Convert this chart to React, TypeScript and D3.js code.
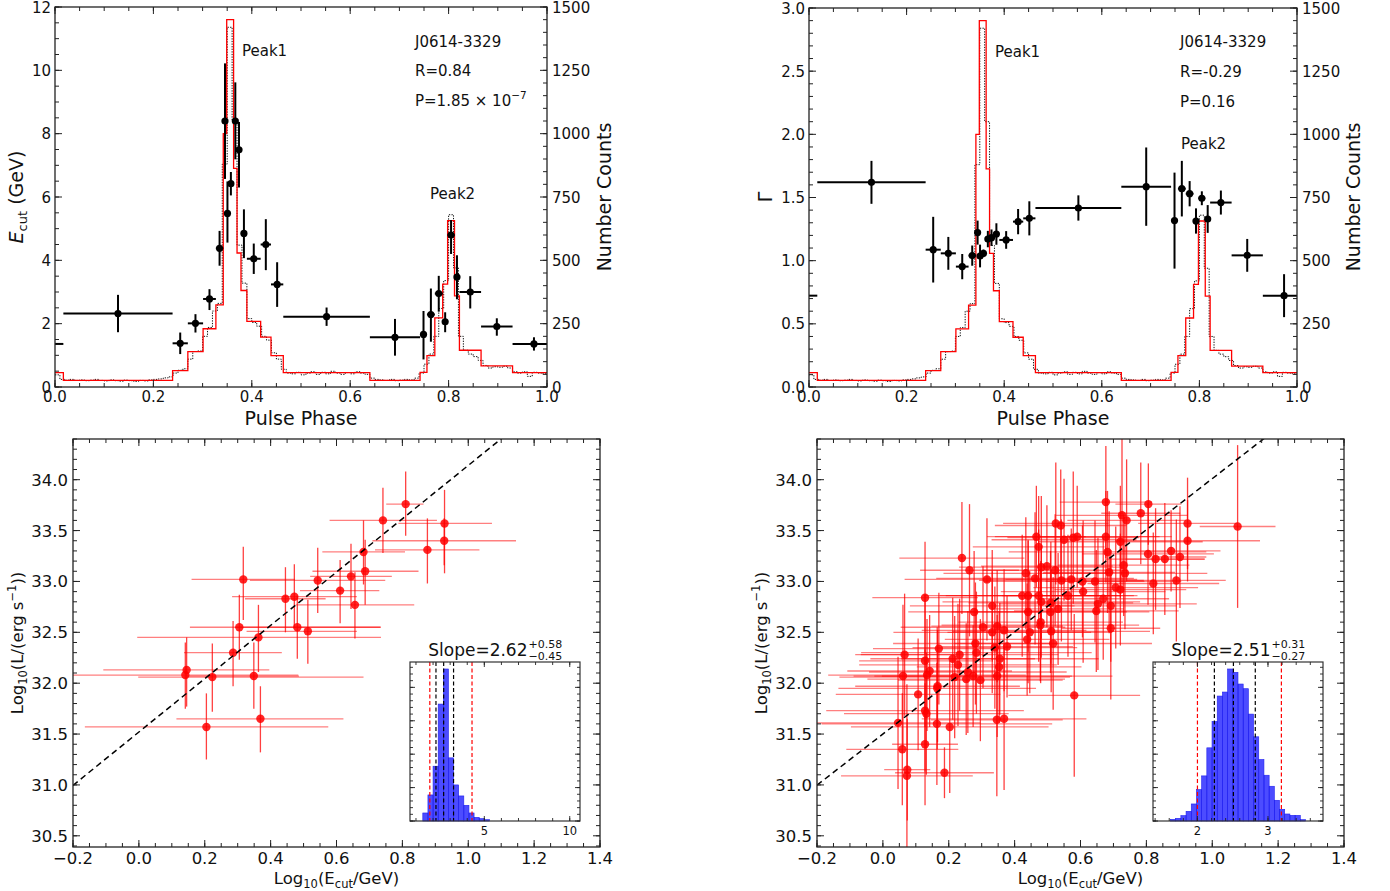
import React from "react";
import * as d3 from "d3";

const FONT = "'DejaVu Sans', 'Liberation Sans', sans-serif";

// ================= Top panels (phase resolved) =================
const phaseEdges = [0.017, 0.239, 0.27, 0.301, 0.327, 0.342, 0.349, 0.352, 0.363, 0.37, 0.378, 0.39, 0.418, 0.439, 0.464, 0.64, 0.742, 0.756, 0.772, 0.788, 0.798, 0.812, 0.822, 0.866, 0.93, 1.017];
const ecutValues = [2.32, 1.38, 2.01, 2.78, 4.38, 8.4, 5.48, 6.42, 8.4, 7.49, 4.85, 4.05, 4.5, 3.24, 2.22, 1.57, 1.66, 2.29, 2.95, 2.06, 4.8, 3.47, 3.0, 1.91, 1.36];
const ecutErrLow = [0.59, 0.34, 0.29, 0.35, 0.55, 1.83, 0.92, 0.37, 1.21, 1.19, 0.78, 0.48, 0.81, 0.71, 0.29, 0.58, 0.79, 0.86, 0.57, 0.33, 0.6, 0.7, 0.52, 0.29, 0.21];
const ecutErrHigh = [0.59, 0.34, 0.29, 0.31, 0.55, 1.82, 1.01, 0.37, 1.22, 0.88, 0.76, 0.48, 0.8, 0.7, 0.29, 0.58, 0.74, 0.82, 0.56, 0.3, 0.47, 0.69, 0.5, 0.26, 0.21];
const gammaValues = [1.62, 1.087, 1.058, 0.953, 1.04, 1.222, 1.037, 1.058, 1.171, 1.182, 1.211, 1.164, 1.309, 1.335, 1.417, 1.586, 1.317, 1.57, 1.53, 1.314, 1.494, 1.33, 1.46, 1.042, 0.723];
const gammaErr = [0.17, 0.26, 0.13, 0.1, 0.08, 0.095, 0.09, 0.03, 0.065, 0.065, 0.085, 0.07, 0.1, 0.135, 0.1, 0.31, 0.38, 0.22, 0.1, 0.1, 0.055, 0.11, 0.095, 0.13, 0.17];
// light curve (counts) in the coarse phase bins above
const lcCoarse = [26, 65, 140, 230, 324, 1000, 1450, 1450, 863, 529, 381, 259, 197, 124, 57, 26, 58, 124, 273, 406, 657, 360, 145, 83, 57];
// light curve (counts) in 100 fine phase bins
const lcFine = [
  48, 30, 27, 30, 26, 28, 25, 27, 30, 26,
  24, 28, 25, 23, 27, 25, 22, 26, 24, 28,
  30, 32, 36, 40, 55, 66, 72, 110, 140, 142,
  200, 235, 300, 330, 880, 1420, 1050, 560, 410, 270,
  255, 240, 200, 185, 135, 110, 70, 55, 52, 58,
  48, 55, 60, 50, 58, 52, 62, 55, 50, 57,
  52, 60, 55, 50, 35, 30, 28, 26, 30, 25,
  27, 30, 28, 35, 55, 90, 130, 200, 310, 420,
  680, 470, 200, 145, 130, 120, 105, 85, 75, 80,
  78, 82, 75, 60, 55, 60, 42, 58, 55, 52,
];

// ================= Bottom-left scatter =================
const blX = [0.81, 0.741, 0.928, 0.927, 0.876, 0.682, 0.687, 0.644, 0.543, 0.317, 0.611, 0.445, 0.472, 0.656, 0.305, 0.481, 0.513, 0.363, 0.286, 0.145, 0.141, 0.223, 0.349, 0.205, 0.369];
const blY = [33.76, 33.6, 33.57, 33.4, 33.31, 33.29, 33.1, 33.05, 33.01, 33.02, 32.91, 32.83, 32.85, 32.77, 32.55, 32.55, 32.51, 32.45, 32.3, 32.13, 32.08, 32.06, 32.07, 31.57, 31.65];
const blXlo = [0.751, 0.579, 0.788, 0.709, 0.717, 0.557, 0.527, 0.52, 0.337, 0.16, 0.489, 0.322, 0.283, 0.476, 0.155, 0.292, 0.327, -0.005, 0.137, -0.108, -0.25, -0.002, 0.145, -0.164, 0.114];
const blXhi = [0.864, 0.905, 1.072, 1.145, 1.034, 0.808, 0.849, 0.768, 0.748, 0.474, 0.73, 0.567, 0.662, 0.836, 0.734, 0.734, 0.662, 0.735, 0.434, 0.396, 0.484, 0.682, 0.486, 0.575, 0.621];
const blYlo = [33.45, 33.28, 33.08, 33.16, 32.98, 32.97, 32.77, 32.73, 32.69, 32.62, 32.59, 32.5, 32.54, 32.44, 32.23, 32.24, 32.19, 32.11, 31.97, 31.77, 31.75, 31.72, 31.75, 31.25, 31.32];
const blYhi = [34.08, 33.92, 33.9, 33.62, 33.62, 33.6, 33.41, 33.37, 33.33, 33.34, 33.21, 33.14, 33.17, 33.09, 32.87, 32.86, 32.82, 32.77, 32.61, 32.45, 32.4, 32.39, 32.4, 31.9, 31.97];
const blFit = { slope: 2.62, intercept: 31.52 };

// ================= Bottom-right scatter =================
const brX = [
  0.677, 0.806, 0.783, 0.726, 0.74, 0.525, 0.54, 0.925, 1.077, 0.466,
  0.55, 0.578, 0.59, 0.677, 0.721, 0.925, 0.473, 0.682, 0.805, 0.875,
  0.828, 0.856, 0.902, 0.24, 0.263, 0.481, 0.498, 0.523, 0.731, 0.735,
  0.687, 0.434, 0.316, 0.462, 0.542, 0.572, 0.606, 0.644, 0.821, 0.891,
  0.707, 0.721, 0.608, 0.423, 0.441, 0.473, 0.562, 0.128, 0.669, 0.481,
  0.51, 0.692, 0.653, 0.332, 0.648, 0.441, 0.277, 0.509, 0.532, 0.479,
  0.478, 0.304, 0.692, 0.511, 0.332, 0.347, 0.368, 0.438, 0.517, 0.281,
  0.17, 0.377, 0.34, 0.066, 0.128, 0.212, 0.233, 0.284, 0.355, 0.228,
  0.142, 0.353, 0.258, 0.218, 0.061, 0.134, 0.347, 0.253, 0.296, 0.274,
  0.166, 0.165, 0.107, 0.581, 0.128, 0.132, 0.046, 0.164, 0.203, 0.346,
  0.368, 0.128, 0.059, 0.074, 0.073, 0.187, 0.446,
];
const brY = [
  33.78, 33.76, 33.67, 33.65, 33.6, 33.57, 33.55, 33.57, 33.54, 33.44,
  33.41, 33.43, 33.44, 33.44, 33.39, 33.4, 33.34, 33.29, 33.27, 33.3,
  33.22, 33.22, 33.24, 33.23, 33.11, 33.14, 33.15, 33.11, 33.16, 33.08,
  33.09, 33.08, 33.02, 33.03, 33.01, 33.02, 33.0, 33.0, 32.98, 33.01,
  32.94, 32.92, 32.9, 32.86, 32.86, 32.86, 32.86, 32.84, 32.83, 32.8,
  32.79, 32.76, 32.78, 32.76, 32.71, 32.7, 32.7, 32.7, 32.73, 32.6,
  32.57, 32.55, 32.54, 32.51, 32.5, 32.56, 32.52, 32.43, 32.39, 32.39,
  32.34, 32.36, 32.35, 32.28, 32.22, 32.24, 32.28, 32.3, 32.24, 32.18,
  32.12, 32.16, 32.11, 32.06, 32.07, 32.08, 32.07, 32.04, 32.03, 32.07,
  31.97, 31.95, 31.89, 31.88, 31.73, 31.7, 31.61, 31.6, 31.57, 31.64,
  31.65, 31.4, 31.35, 31.15, 31.09, 31.12, 32.5,
];
const brXerr = [
  0.14, 0.1, 0.12, 0.2, 0.18, 0.16, 0.2, 0.15, 0.115, 0.15,
  0.22, 0.2, 0.25, 0.2, 0.25, 0.22, 0.2, 0.3, 0.2, 0.15,
  0.15, 0.12, 0.08, 0.19, 0.15, 0.25, 0.2, 0.22, 0.2, 0.25,
  0.2, 0.25, 0.25, 0.3, 0.25, 0.2, 0.3, 0.15, 0.2, 0.15,
  0.25, 0.2, 0.25, 0.3, 0.25, 0.3, 0.2, 0.16, 0.2, 0.3,
  0.25, 0.2, 0.3, 0.25, 0.25, 0.3, 0.2, 0.3, 0.2, 0.25,
  0.3, 0.25, 0.15, 0.3, 0.3, 0.2, 0.25, 0.25, 0.3, 0.25,
  0.2, 0.2, 0.25, 0.15, 0.2, 0.25, 0.3, 0.35, 0.3, 0.3,
  0.25, 0.25, 0.3, 0.35, 0.15, 0.3, 0.35, 0.3, 0.25, 0.3,
  0.25, 0.3, 0.25, 0.2, 0.3, 0.25, 0.25, 0.35, 0.3, 0.2,
  0.25, 0.1, 0.17, 0.07, 0.2, 0.15, 0.25,
];
const brYerr = [
  0.55, 0.4, 0.5, 0.75, 0.6, 0.6, 0.55, 0.45, 0.8, 0.5,
  0.6, 0.65, 0.5, 0.45, 0.55, 0.4, 0.5, 0.6, 0.5, 0.4,
  0.5, 0.55, 0.5, 0.55, 0.65, 0.7, 0.6, 0.55, 0.5, 0.55,
  0.6, 0.55, 0.6, 0.65, 0.6, 0.5, 0.55, 0.6, 0.5, 0.6,
  0.6, 0.55, 0.7, 0.6, 0.55, 0.65, 0.6, 0.55, 0.6, 0.55,
  0.6, 0.55, 0.65, 0.55, 0.6, 0.7, 0.6, 0.6, 0.55, 0.6,
  0.55, 0.6, 0.7, 0.6, 0.6, 0.55, 0.6, 0.55, 0.65, 0.6,
  0.55, 0.5, 0.6, 0.6, 0.65, 0.6, 0.55, 0.6, 0.55, 0.6,
  0.55, 0.55, 0.6, 0.6, 0.7, 0.55, 0.6, 0.55, 0.6, 0.5,
  0.55, 0.6, 0.55, 0.8, 0.6, 0.6, 0.65, 0.6, 0.65, 0.75,
  0.7, 0.6, 0.55, 0.5, 0.9, 0.25, 0.6,
];
const brFit = { slope: 2.51, intercept: 31.5 };

// ================= Insets (slope posterior histograms) =================
const histLStart = 1.4;
const histLWidth = 0.3;
const histLCounts = [24, 78, 164, 350, 455, 189, 108, 75, 47, 24, 11, 7, 4];
const histLRed = [1.81, 4.28];
const histLBlack = [2.17, 2.62, 3.2];

const histRStart = 1.618;
const histRWidth = 0.0736;
const histRCounts = [5, 8, 16, 29, 51, 94, 135, 219, 298, 374, 386, 455, 445, 410, 396, 320, 252, 184, 137, 104, 62, 35, 21, 17, 17, 4];
const histRRed = [2.0, 3.19];
const histRBlack = [2.24, 2.51, 2.82];

type Box = { x0: number; x1: number; y0: number; y1: number };

const grid = (a: number, b: number, s: number) =>
  d3.range(Math.ceil(a / s - 1e-9), Math.floor(b / s + 1e-9) + 1).map((k) => +(k * s).toFixed(6));

function Ticks(props: any) {
  const { box, sx, sy, syR, xMaj, xMin, yMaj, yMin, yRMaj, yRMin, maj = 7, min = 4, sw = 1 } = props;
  const out: any[] = [];
  let k = 0;
  const L = (x1: number, y1: number, x2: number, y2: number) =>
    out.push(<line key={k++} x1={x1} y1={y1} x2={x2} y2={y2} />);
  const xs = (vals: number[], len: number) =>
    vals.forEach((v) => {
      const p = sx(v);
      L(p, box.y1, p, box.y1 - len);
      L(p, box.y0, p, box.y0 + len);
    });
  xs(xMin, min);
  xs(xMaj, maj);
  yMin.forEach((v: number) => L(box.x0, sy(v), box.x0 + min, sy(v)));
  yMaj.forEach((v: number) => L(box.x0, sy(v), box.x0 + maj, sy(v)));
  const r = syR || sy;
  (yRMin || yMin).forEach((v: number) => L(box.x1, r(v), box.x1 - min, r(v)));
  (yRMaj || yMaj).forEach((v: number) => L(box.x1, r(v), box.x1 - maj, r(v)));
  return (
    <g stroke="#222" strokeWidth={sw}>
      {out}
    </g>
  );
}

function TopPanel(props: any) {
  const { id, box, yMax, yMajStep, yMinStep, yFmt, values, errLo, errHi, yLabel, texts, peak1, peak2, countsLabelX } = props;
  const sx = d3.scaleLinear().domain([0, 1]).range([box.x0, box.x1]);
  const sy = d3.scaleLinear().domain([0, yMax]).range([box.y1, box.y0]);
  const sc = d3.scaleLinear().domain([0, 1500]).range([box.y1, box.y0]);
  const line = d3
    .line<[number, number]>()
    .x((d) => sx(d[0]))
    .y((d) => sc(d[1]));
  const finePts: [number, number][] = [];
  lcFine.forEach((v, i) => {
    finePts.push([i / lcFine.length, v], [(i + 1) / lcFine.length, v]);
  });
  const last = lcCoarse[lcCoarse.length - 1];
  const coarsePts: [number, number][] = [
    [0, last],
    [phaseEdges[0], last],
  ];
  lcCoarse.forEach((v, i) => {
    coarsePts.push([phaseEdges[i], v], [Math.min(phaseEdges[i + 1], 1), v]);
  });
  const fmtX = d3.format(".1f");
  const clip = `clip-${id}`;
  return (
    <g>
      <defs>
        <clipPath id={clip}>
          <rect x={box.x0} y={box.y0} width={box.x1 - box.x0} height={box.y1 - box.y0} />
        </clipPath>
      </defs>
      <g clipPath={`url(#${clip})`}>
        <path d={line(finePts) || ""} fill="none" stroke="#111" strokeWidth={1} strokeDasharray="1.3 1.3" />
        <path d={line(coarsePts) || ""} fill="none" stroke="#ff0000" strokeWidth={1.3} />
        <g stroke="#000" strokeWidth={2}>
          {values.map((v: number, i: number) => {
            const a = phaseEdges[i];
            const b = phaseEdges[i + 1];
            const c = (a + b) / 2;
            return (
              <g key={i}>
                <line x1={sx(a)} x2={sx(Math.min(b, 1))} y1={sy(v)} y2={sy(v)} />
                {b > 1 && <line x1={sx(0)} x2={sx(b - 1)} y1={sy(v)} y2={sy(v)} />}
                <line x1={sx(c)} x2={sx(c)} y1={sy(v - errLo[i])} y2={sy(v + errHi[i])} />
                <circle cx={sx(c)} cy={sy(v)} r={3.6} fill="#000" stroke="none" />
              </g>
            );
          })}
        </g>
      </g>
      <rect x={box.x0} y={box.y0} width={box.x1 - box.x0} height={box.y1 - box.y0} fill="none" stroke="#222" strokeWidth={1.3} />
      <Ticks
        box={box}
        sx={sx}
        sy={sy}
        syR={sc}
        xMaj={grid(0, 1, 0.2)}
        xMin={grid(0, 1, 0.05)}
        yMaj={grid(0, yMax, yMajStep)}
        yMin={grid(0, yMax, yMinStep)}
        yRMaj={grid(0, 1500, 250)}
        yRMin={grid(0, 1500, 50)}
      />
      <g fontSize={15} fill="#111">
        {grid(0, 1, 0.2).map((v) => (
          <text key={"x" + v} x={sx(v)} y={box.y1 + 15} textAnchor="middle">
            {fmtX(v)}
          </text>
        ))}
        {grid(0, yMax, yMajStep).map((v) => (
          <text key={"y" + v} x={box.x0 - 4} y={sy(v) + 5.5} textAnchor="end">
            {yFmt(v)}
          </text>
        ))}
        {grid(0, 1500, 250).map((v) => (
          <text key={"c" + v} x={box.x1 + 5} y={sc(v) + 5.5} textAnchor="start">
            {v}
          </text>
        ))}
      </g>
      <text x={(box.x0 + box.x1) / 2} y={425} fontSize={19} textAnchor="middle" fill="#111">
        Pulse Phase
      </text>
      <text transform={`translate(${countsLabelX},197) rotate(-90)`} fontSize={19} textAnchor="middle" fill="#111">
        Number Counts
      </text>
      {yLabel}
      <g fontSize={15} fill="#111">
        {texts.map((t: any, i: number) => (
          <text key={i} x={t.x} y={t.y}>
            {t.content}
          </text>
        ))}
        <text x={peak1.x} y={peak1.y}>Peak1</text>
        <text x={peak2.x} y={peak2.y}>Peak2</text>
      </g>
    </g>
  );
}

function Inset(props: any) {
  const { box, dom, start, width, counts, reds, blacks, xMaj, xMin, slope, plus, minus } = props;
  const sx = d3.scaleLinear().domain(dom).range([box.x0, box.x1]);
  const ymax = (d3.max(counts) as number) * 1.046;
  const sy = d3.scaleLinear().domain([0, ymax]).range([box.y1, box.y0]);
  const split = (box.x0 + box.x1) / 2 + 32.5;
  return (
    <g>
      <rect x={box.x0} y={box.y0} width={box.x1 - box.x0} height={box.y1 - box.y0} fill="#fff" />
      {counts.map((c: number, i: number) => {
        const a = start + i * width;
        return (
          <rect
            key={i}
            x={sx(a)}
            y={sy(c)}
            width={sx(a + width) - sx(a)}
            height={sy(0) - sy(c)}
            fill="#0000ff"
            fillOpacity={0.7}
            stroke="#2020ee"
            strokeWidth={0.6}
          />
        );
      })}
      {reds.map((v: number, i: number) => (
        <line key={"r" + i} x1={sx(v)} x2={sx(v)} y1={box.y0} y2={box.y1} stroke="#ff0000" strokeWidth={1.2} strokeDasharray="4 2.5" />
      ))}
      {blacks.map((v: number, i: number) => (
        <line key={"b" + i} x1={sx(v)} x2={sx(v)} y1={box.y0} y2={box.y1} stroke="#000" strokeWidth={1.2} strokeDasharray="4 2.5" />
      ))}
      <rect x={box.x0} y={box.y0} width={box.x1 - box.x0} height={box.y1 - box.y0} fill="none" stroke="#333" strokeWidth={1.2} />
      <Ticks box={box} sx={sx} sy={sy} xMaj={xMaj} xMin={xMin} yMaj={grid(0, ymax, 100)} yMin={grid(0, ymax, 20)} maj={5} min={3} sw={0.9} />
      <g fontSize={11.5} fill="#111">
        {xMaj.map((v: number) => (
          <text key={v} x={sx(v)} y={box.y1 + 14} textAnchor="middle">
            {v}
          </text>
        ))}
      </g>
      <text x={split} y={656} fontSize={17} textAnchor="end" fill="#111">
        Slope={slope}
      </text>
      <text x={split + 1} y={648} fontSize={11} fill="#111">
        {plus}
      </text>
      <text x={split + 1} y={660} fontSize={11} fill="#111">
        {minus}
      </text>
    </g>
  );
}

function BottomPanel(props: any) {
  const { id, box, pts, fit, inset } = props;
  const sx = d3.scaleLinear().domain([-0.2, 1.4]).range([box.x0, box.x1]);
  const sy = d3.scaleLinear().domain([30.39, 34.4]).range([box.y1, box.y0]);
  const clip = `clip-${id}`;
  const fmt = d3.format(".1f");
  const fitLine = d3
    .line<number>()
    .x((d) => sx(d))
    .y((d) => sy(fit.slope * d + fit.intercept));
  return (
    <g>
      <defs>
        <clipPath id={clip}>
          <rect x={box.x0} y={box.y0} width={box.x1 - box.x0} height={box.y1 - box.y0} />
        </clipPath>
      </defs>
      <g clipPath={`url(#${clip})`}>
        <g stroke="#ff0000" strokeWidth={1.3}>
          {pts.map((p: any, i: number) => (
            <g key={i}>
              <line x1={sx(p.xlo)} x2={sx(p.xhi)} y1={sy(p.y)} y2={sy(p.y)} strokeOpacity={0.5} />
              <line x1={sx(p.x)} x2={sx(p.x)} y1={sy(p.ylo)} y2={sy(p.yhi)} strokeOpacity={0.75} />
            </g>
          ))}
        </g>
        <g fill="#ff0000" fillOpacity={0.85}>
          {pts.map((p: any, i: number) => (
            <circle key={i} cx={sx(p.x)} cy={sy(p.y)} r={4.2} />
          ))}
        </g>
        <path d={fitLine([-0.2, 1.4]) || ""} fill="none" stroke="#000" strokeWidth={1.5} strokeDasharray="6 4" />
      </g>
      <rect x={box.x0} y={box.y0} width={box.x1 - box.x0} height={box.y1 - box.y0} fill="none" stroke="#222" strokeWidth={1.3} />
      <Ticks
        box={box}
        sx={sx}
        sy={sy}
        xMaj={grid(-0.2, 1.4, 0.2)}
        xMin={grid(-0.2, 1.4, 0.05)}
        yMaj={grid(30.39, 34.4, 0.5)}
        yMin={grid(30.39, 34.4, 0.1)}
      />
      <g fontSize={16.5} fill="#111">
        {grid(-0.2, 1.4, 0.2).map((v) => (
          <text key={"x" + v} x={sx(v)} y={box.y1 + 17} textAnchor="middle">
            {fmt(v)}
          </text>
        ))}
        {grid(30.39, 34.4, 0.5).map((v) => (
          <text key={"y" + v} x={box.x0 - 5} y={sy(v) + 6} textAnchor="end">
            {fmt(v)}
          </text>
        ))}
      </g>
      <text x={(box.x0 + box.x1) / 2} y={884} fontSize={16.5} textAnchor="middle" fill="#111">
        Log<tspan dy={4} fontSize={11.5}>10</tspan>
        <tspan dy={-4}>(E</tspan>
        <tspan dy={4} fontSize={11.5}>cut</tspan>
        <tspan dy={-4}>/GeV)</tspan>
      </text>
      <text transform={`translate(${box.x0 - 50},643) rotate(-90)`} fontSize={16.5} textAnchor="middle" fill="#111">
        Log<tspan dy={4} fontSize={11.5}>10</tspan>
        <tspan dy={-4}>(L/(erg s</tspan>
        <tspan dy={-7} fontSize={11.5}>−1</tspan>
        <tspan dy={7}>))</tspan>
      </text>
      <Inset {...inset} />
    </g>
  );
}

export default function App() {
  const boxTL: Box = { x0: 55, x1: 547, y0: 7, y1: 387 };
  const boxTR: Box = { x0: 809, x1: 1297, y0: 8, y1: 387 };
  const boxBL: Box = { x0: 73, x1: 600, y0: 439, y1: 847 };
  const boxBR: Box = { x0: 817, x1: 1344, y0: 439, y1: 847 };

  const blPts = blX.map((x, i) => ({ x, y: blY[i], xlo: blXlo[i], xhi: blXhi[i], ylo: blYlo[i], yhi: blYhi[i] }));
  const brPts = brX.map((x, i) => ({
    x,
    y: brY[i],
    xlo: x - brXerr[i],
    xhi: x + brXerr[i],
    ylo: brY[i] - brYerr[i],
    yhi: brY[i] + brYerr[i],
  }));

  return (
    <svg
      width={1390}
      height={891}
      style={{ position: "absolute", left: 0, top: 0, background: "#fff", fontFamily: FONT }}
    >
      <rect x={0} y={0} width={1390} height={891} fill="#fff" />
      <TopPanel
        id="tl"
        box={boxTL}
        yMax={12}
        yMajStep={2}
        yMinStep={0.5}
        yFmt={(v: number) => String(v)}
        values={ecutValues}
        errLo={ecutErrLow}
        errHi={ecutErrHigh}
        countsLabelX={611}
        yLabel={
          <text transform="translate(23,197) rotate(-90)" fontSize={19} textAnchor="middle" fill="#111">
            <tspan fontStyle="italic">E</tspan>
            <tspan dy={4} fontSize={13}>cut</tspan>
            <tspan dy={-4}> (GeV)</tspan>
          </text>
        }
        texts={[
          { x: 415, y: 46.5, content: "J0614-3329" },
          { x: 415, y: 75.5, content: "R=0.84" },
          {
            x: 415,
            y: 105.5,
            content: (
              <>
                P=1.85 × 10<tspan dy={-7} fontSize={10.5}>−7</tspan>
              </>
            ),
          },
        ]}
        peak1={{ x: 242, y: 55.5 }}
        peak2={{ x: 430, y: 198.5 }}
      />
      <TopPanel
        id="tr"
        box={boxTR}
        yMax={3}
        yMajStep={0.5}
        yMinStep={0.1}
        yFmt={d3.format(".1f")}
        values={gammaValues}
        errLo={gammaErr}
        errHi={gammaErr}
        countsLabelX={1360}
        yLabel={
          <text transform="translate(772,197) rotate(-90)" fontSize={19} textAnchor="middle" fill="#111">
            Γ
          </text>
        }
        texts={[
          { x: 1180, y: 46.5, content: "J0614-3329" },
          { x: 1180, y: 76.5, content: "R=-0.29" },
          { x: 1180, y: 106.5, content: "P=0.16" },
        ]}
        peak1={{ x: 995, y: 56.5 }}
        peak2={{ x: 1181, y: 148.5 }}
      />
      <BottomPanel
        id="bl"
        box={boxBL}
        pts={blPts}
        fit={blFit}
        inset={{
          box: { x0: 410, x1: 580, y0: 662, y1: 821 },
          dom: [0.65, 10.6],
          start: histLStart,
          width: histLWidth,
          counts: histLCounts,
          reds: histLRed,
          blacks: histLBlack,
          xMaj: [5, 10],
          xMin: grid(1, 10, 1),
          slope: "2.62",
          plus: "+0.58",
          minus: "−0.45",
        }}
      />
      <BottomPanel
        id="br"
        box={boxBR}
        pts={brPts}
        fit={brFit}
        inset={{
          box: { x0: 1153, x1: 1323, y0: 662, y1: 821 },
          dom: [1.37, 3.78],
          start: histRStart,
          width: histRWidth,
          counts: histRCounts,
          reds: histRRed,
          blacks: histRBlack,
          xMaj: [2, 3],
          xMin: grid(1.4, 3.6, 0.2),
          slope: "2.51",
          plus: "+0.31",
          minus: "−0.27",
        }}
      />
    </svg>
  );
}
